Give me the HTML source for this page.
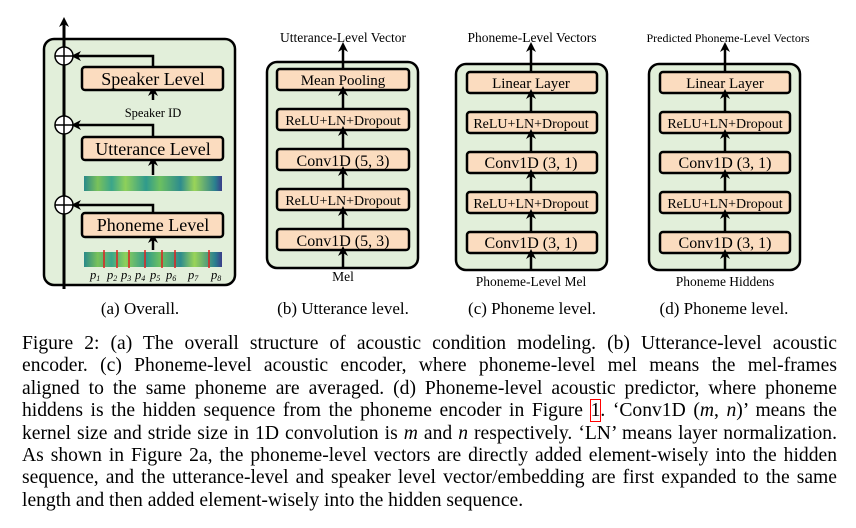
<!DOCTYPE html>
<html><head><meta charset="utf-8"><style>
body{margin:0;background:#fff;width:856px;height:528px;overflow:hidden;position:relative;font-family:"Liberation Serif",serif}
svg{position:absolute;left:0;top:0}
svg text{font-family:"Liberation Serif",serif}
.cap{position:absolute;left:22px;width:815px;font-size:19.6px;line-height:22.4px;top:333px;color:#000}
.l{display:block;text-align:justify;text-align-last:justify;white-space:nowrap;height:22.4px}
.last{text-align-last:left}
</style></head><body>
<svg width="856" height="330" viewBox="0 0 856 330">
<defs>
<marker id="ah" markerWidth="10" markerHeight="10" refX="5" refY="5" orient="auto-start-reverse" markerUnits="userSpaceOnUse"><path d="M0,0 L10,5 L0,10 L3,5 Z" fill="#000"/></marker>
<linearGradient id="sp" x1="0" x2="1">
<stop offset="0" stop-color="#2a8a8a"/><stop offset="0.1" stop-color="#7ac25a"/><stop offset="0.2" stop-color="#3ba58a"/><stop offset="0.3" stop-color="#8ed05a"/><stop offset="0.45" stop-color="#2f9a8c"/><stop offset="0.55" stop-color="#6cc060"/><stop offset="0.7" stop-color="#2e8c8e"/><stop offset="0.8" stop-color="#9ad458"/><stop offset="0.95" stop-color="#2a7f8f"/><stop offset="1" stop-color="#3a3d8a"/>
</linearGradient>
</defs>
<rect x="44" y="39" width="191" height="246" rx="10" fill="#e2efda" stroke="#000" stroke-width="2.5"/>
<line x1="64" y1="289" x2="64" y2="22" stroke="#000" stroke-width="3" marker-end="url(#ah)"/>
<g fill="#fff" stroke="#000" stroke-width="1.5">
<circle cx="64" cy="56" r="9"/><circle cx="64" cy="125" r="9"/><circle cx="64" cy="205" r="9"/></g>
<g stroke="#000" stroke-width="1.5"><line x1="55" y1="56" x2="73" y2="56"/><line x1="55" y1="125" x2="73" y2="125"/><line x1="55" y1="205" x2="73" y2="205"/><line x1="64" y1="47" x2="64" y2="65"/><line x1="64" y1="116" x2="64" y2="134"/><line x1="64" y1="196" x2="64" y2="214"/></g>
<g fill="none" stroke="#000" stroke-width="2.5">
<path d="M153,67 V56 H76" marker-end="url(#ah)"/>
<path d="M153,137 V125 H76" marker-end="url(#ah)"/>
<path d="M153,213 V205 H76" marker-end="url(#ah)"/>
<path d="M153,100 V91" marker-end="url(#ah)"/>
<path d="M153,175 V161" marker-end="url(#ah)"/>
<path d="M153,250 V238" marker-end="url(#ah)"/>
</g>
<g fill="#fbdcbf" stroke="#000" stroke-width="2.5">
<rect x="82" y="67" width="141" height="23" rx="3"/>
<rect x="82" y="137" width="141" height="23" rx="3"/>
<rect x="82" y="213" width="141" height="24" rx="3"/>
</g>
<g font-size="18" text-anchor="middle"><text x="153" y="85">Speaker Level</text><text x="153" y="155">Utterance Level</text><text x="153" y="231">Phoneme Level</text></g>
<text x="153" y="117" font-size="12.5" text-anchor="middle">Speaker ID</text>
<rect x="84" y="176" width="138" height="15" fill="url(#sp)"/>
<rect x="84" y="252" width="138" height="15" fill="url(#sp)"/>
<g stroke="#e02020" stroke-width="1.5"><line x1="104" y1="250" x2="104" y2="268"/><line x1="117" y1="250" x2="117" y2="268"/><line x1="129" y1="250" x2="129" y2="268"/><line x1="145" y1="250" x2="145" y2="268"/><line x1="162" y1="250" x2="162" y2="268"/><line x1="175" y1="250" x2="175" y2="268"/><line x1="209" y1="250" x2="209" y2="268"/></g>
<g font-size="12.5" font-style="italic"><text x="90" y="279">p<tspan font-size="8" dy="2">1</tspan></text><text x="107" y="279">p<tspan font-size="8" dy="2">2</tspan></text><text x="121" y="279">p<tspan font-size="8" dy="2">3</tspan></text><text x="135" y="279">p<tspan font-size="8" dy="2">4</tspan></text><text x="150" y="279">p<tspan font-size="8" dy="2">5</tspan></text><text x="166" y="279">p<tspan font-size="8" dy="2">6</tspan></text><text x="188" y="279">p<tspan font-size="8" dy="2">7</tspan></text><text x="211" y="279">p<tspan font-size="8" dy="2">8</tspan></text></g>

<rect x="267" y="62" width="151" height="206" rx="10" fill="#e2efda" stroke="#000" stroke-width="2.5"/>
<g fill="#fbdcbf" stroke="#000" stroke-width="2.5">
<rect x="277" y="69" width="132" height="21" rx="3"/><rect x="277" y="109" width="132" height="21" rx="3"/><rect x="277" y="149" width="132" height="21" rx="3"/><rect x="277" y="189" width="132" height="21" rx="3"/><rect x="277" y="229" width="132" height="21" rx="3"/></g>
<g fill="none" stroke="#000" stroke-width="2.5"><path d="M343,69 V47" marker-end="url(#ah)"/><path d="M343,109 V91" marker-end="url(#ah)"/><path d="M343,149 V131" marker-end="url(#ah)"/><path d="M343,189 V171" marker-end="url(#ah)"/><path d="M343,229 V211" marker-end="url(#ah)"/><path d="M343,268 V251" marker-end="url(#ah)"/></g>
<g text-anchor="middle"><text x="343" y="42" font-size="13.5">Utterance-Level Vector</text>
<text x="343" y="85" font-size="15">Mean Pooling</text><text x="343" y="125" font-size="14">ReLU+LN+Dropout</text><text x="343" y="166" font-size="16">Conv1D (5, 3)</text><text x="343" y="205" font-size="14">ReLU+LN+Dropout</text><text x="343" y="246" font-size="16">Conv1D (5, 3)</text><text x="343" y="281" font-size="13.5">Mel</text>
<text x="140" y="314" font-size="17">(a) Overall.</text><text x="343" y="314" font-size="17">(b) Utterance level.</text><text x="532" y="314" font-size="17">(c) Phoneme level.</text><text x="724" y="314" font-size="17">(d) Phoneme level.</text></g>

<rect x="456" y="64" width="151" height="206" rx="10" fill="#e2efda" stroke="#000" stroke-width="2.5"/>
<g fill="#fbdcbf" stroke="#000" stroke-width="2.5">
<rect x="467" y="72" width="130" height="21" rx="3"/><rect x="467" y="112" width="130" height="21" rx="3"/><rect x="467" y="152" width="130" height="21" rx="3"/><rect x="467" y="192" width="130" height="21" rx="3"/><rect x="467" y="232" width="130" height="21" rx="3"/></g>
<g fill="none" stroke="#000" stroke-width="2.5"><path d="M531,72 V47" marker-end="url(#ah)"/><path d="M531,112 V94" marker-end="url(#ah)"/><path d="M531,152 V134" marker-end="url(#ah)"/><path d="M531,192 V174" marker-end="url(#ah)"/><path d="M531,232 V214" marker-end="url(#ah)"/><path d="M531,270 V254" marker-end="url(#ah)"/></g>
<g text-anchor="middle"><text x="532" y="42" font-size="13.5">Phoneme-Level Vectors</text>
<text x="531" y="88" font-size="15">Linear Layer</text><text x="531" y="128" font-size="14">ReLU+LN+Dropout</text><text x="531" y="168" font-size="16">Conv1D (3, 1)</text><text x="531" y="208" font-size="14">ReLU+LN+Dropout</text><text x="531" y="248" font-size="16">Conv1D (3, 1)</text><text x="531" y="286" font-size="13.5">Phoneme-Level Mel</text></g>

<rect x="649" y="64" width="151" height="206" rx="10" fill="#e2efda" stroke="#000" stroke-width="2.5"/>
<g fill="#fbdcbf" stroke="#000" stroke-width="2.5">
<rect x="660" y="72" width="130" height="21" rx="3"/><rect x="660" y="112" width="130" height="21" rx="3"/><rect x="660" y="152" width="130" height="21" rx="3"/><rect x="660" y="192" width="130" height="21" rx="3"/><rect x="660" y="232" width="130" height="21" rx="3"/></g>
<g fill="none" stroke="#000" stroke-width="2.5"><path d="M725,72 V47" marker-end="url(#ah)"/><path d="M725,112 V94" marker-end="url(#ah)"/><path d="M725,152 V134" marker-end="url(#ah)"/><path d="M725,192 V174" marker-end="url(#ah)"/><path d="M725,232 V214" marker-end="url(#ah)"/><path d="M725,270 V254" marker-end="url(#ah)"/></g>
<g text-anchor="middle"><text x="728" y="42" font-size="12">Predicted Phoneme-Level Vectors</text>
<text x="725" y="88" font-size="15">Linear Layer</text><text x="725" y="128" font-size="14">ReLU+LN+Dropout</text><text x="725" y="168" font-size="16">Conv1D (3, 1)</text><text x="725" y="208" font-size="14">ReLU+LN+Dropout</text><text x="725" y="248" font-size="16">Conv1D (3, 1)</text><text x="725" y="286" font-size="13.5">Phoneme Hiddens</text></g>
</svg>
<div class="cap">
<span class="l">Figure 2: (a) The overall structure of acoustic condition modeling. (b) Utterance-level acoustic</span>
<span class="l">encoder. (c) Phoneme-level acoustic encoder, where phoneme-level mel means the mel-frames</span>
<span class="l">aligned to the same phoneme are averaged. (d) Phoneme-level acoustic predictor, where phoneme</span>
<span class="l">hiddens is the hidden sequence from the phoneme encoder in Figure <span style="outline:1px solid red">1</span>. ‘Conv1D (<i>m</i>, <i>n</i>)’ means the</span>
<span class="l">kernel size and stride size in 1D convolution is <i>m</i> and <i>n</i> respectively. ‘LN’ means layer normalization.</span>
<span class="l">As shown in Figure 2a, the phoneme-level vectors are directly added element-wisely into the hidden</span>
<span class="l">sequence, and the utterance-level and speaker level vector/embedding are first expanded to the same</span>
<span class="l last">length and then added element-wisely into the hidden sequence.</span>
</div>
</body></html>
